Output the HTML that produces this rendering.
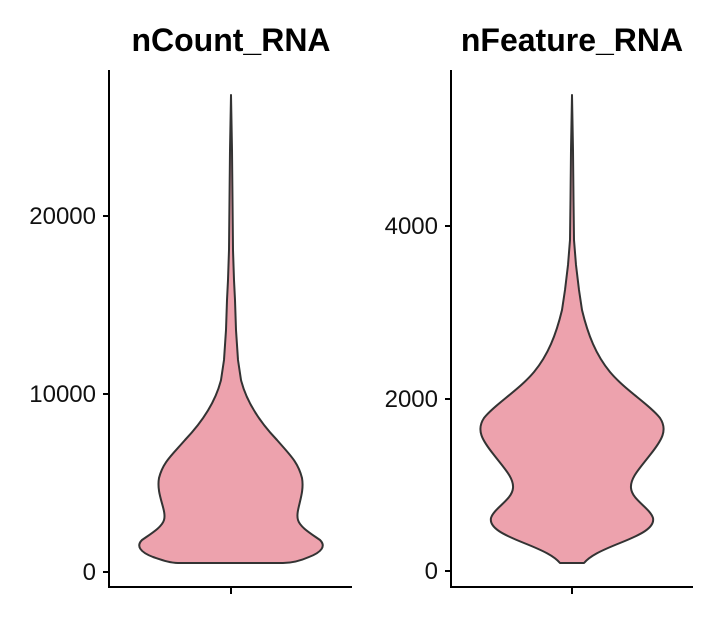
<!DOCTYPE html>
<html><head><meta charset="utf-8"><style>body{margin:0;background:#fff}</style></head><body>
<svg width="720" height="620" xmlns="http://www.w3.org/2000/svg" font-family="Liberation Sans, sans-serif">
<rect width="720" height="620" fill="#fff"/>
<text x="231" y="51" font-size="32" font-weight="bold" text-anchor="middle">nCount_RNA</text>
<text x="572" y="51" font-size="32" font-weight="bold" text-anchor="middle">nFeature_RNA</text>
<g stroke="#000" stroke-width="2" fill="none">
<path d="M109,70 V587 H352"/>
<path d="M103,572 H109 M103,394 H109 M103,216 H109 M231,587 V594"/>
<path d="M451,70 V587 H693"/>
<path d="M445,571 H451 M445,399 H451 M445,226 H451 M572,587 V594"/>
</g>
<g font-size="24" text-anchor="end" fill="#111">
<text x="96" y="580">0</text>
<text x="96" y="402">10000</text>
<text x="96" y="224">20000</text>
<text x="438" y="579">0</text>
<text x="438" y="407">2000</text>
<text x="438" y="234">4000</text>
</g>
<path fill="#EDA2AD" stroke="#333" stroke-width="2" stroke-linejoin="round" d="
M231,95 L232,150 L232.5,200 L233,250 L234,280 L235,300 L236,330 L238,360 L241,380
C246,400 258,420 277,440 C290,455 298,462 302,478 C305,495 295,510 298,520
C300,527 310,533 320,540 C326,546 322,552 309,557 C300,561 290,563 283,563
L178,563 C170,563 162,560 153,557 C140,552 136,546 142,540 C152,533 162,527 164,520
C167,510 156,495 159,478 C163,462 172,455 185,440 C204,420 216,400 221,380
L224,360 L226,330 L227,300 L228,280 L229,250 L229.5,200 L230,150 Z"/>
<path fill="#EDA2AD" stroke="#333" stroke-width="2" stroke-linejoin="round" d="
M572,95 L573,150 L573.5,200 L574,240 L576,265 L579,290 L582,310
C588,335 596,355 610,372 C625,390 650,405 660,418 C668,430 662,440 650,455
C640,468 630,478 631,488 C632,500 650,508 653,518 C655,528 640,535 620,543
C600,551 590,556 584,563 L560,563 C554,556 544,551 524,543
C504,535 489,528 491,518 C494,508 512,500 513,488 C514,478 504,468 494,455
C482,440 476,430 484,418 C494,405 519,390 534,372 C548,355 556,335 562,310
L565,290 L568,265 L570,240 L570.5,200 L571,150 Z"/>
</svg>
</body></html>
